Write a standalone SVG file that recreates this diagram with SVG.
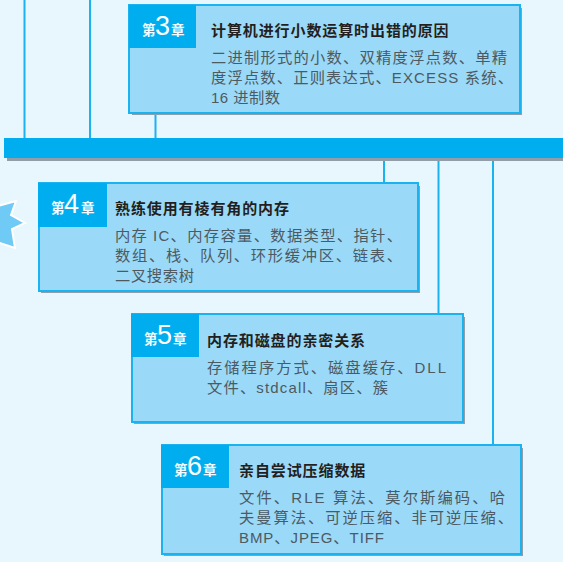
<svg xmlns="http://www.w3.org/2000/svg" width="563" height="562" viewBox="0 0 563 562">
<style>
.card{fill:#9bd9f8;stroke:#1ab2ef;stroke-width:2}
.shadow{fill:#8f9ea8}
.tab{fill:#00aeef}
.link{stroke:#1ab2ef;stroke-width:2;fill:none}
text{font-family:"Noto Sans CJK SC","Liberation Sans",sans-serif}
.title{font-size:15px;font-weight:700;fill:#231f20;letter-spacing:.9px}
.body{font-size:15.300px;fill:#4d5a62}
.lat{font-family:"Liberation Sans","Noto Sans CJK SC",sans-serif;font-size:15px}
.ch{font-size:13.500px;font-weight:700;fill:#f2fbff}
.num{font-family:"Liberation Sans",sans-serif;font-size:27px;fill:#fff}
</style>
<rect width="563" height="562" fill="#e8f6fe"/>
<g id="connectors">
<path class="link" d="M24.500 0V138M90 0V138M155.500 113V138M384 158V183M438.500 158V314M493 158V445"/>
</g>
<g id="bar">
<rect x="7" y="141" width="556" height="20" class="shadow"/>
<rect x="4" y="138" width="559" height="20" class="tab"/>
</g>
<g id="burst">
<path d="M-6 207L16 201L11 215L25 223L12 229L15 248L-6 241Z" fill="#6fcbf5" stroke="#fff" stroke-width="2"/>
</g>
<g id="chapter3">
<rect x="132" y="8" width="390" height="107" class="shadow"/>
<rect x="129" y="5" width="391" height="108" class="card"/>
<rect x="129" y="5" width="67" height="43" class="tab"/>
<text class="ch" x="142" y="35">第</text><text class="num" x="155" y="35">3</text><text class="ch" x="171" y="35">章</text>
<text class="title" x="211" y="36">计算机进行小数运算时出错的原因</text>
<text class="body" x="211" y="63" textLength="296">二进制形式的小数、双精度浮点数、单精</text>
<text class="body" x="211" y="83" textLength="302">度浮点数、正则表达式、<tspan class="lat">EXCESS </tspan>系统、</text>
<text class="body" x="211" y="103" textLength="69"><tspan class="lat">16 </tspan>进制数</text>
</g>
<g id="chapter4">
<rect x="41" y="186" width="379" height="107" class="shadow"/>
<rect x="39" y="183" width="379" height="108" class="card"/>
<rect x="38" y="183" width="69" height="44" class="tab"/>
<text class="ch" x="51" y="213">第</text><text class="num" x="64" y="213">4</text><text class="ch" x="81" y="213">章</text>
<text class="title" x="115" y="214">熟练使用有棱有角的内存</text>
<text class="body" x="115" y="241" textLength="287">内存 <tspan class="lat">IC</tspan>、内存容量、数据类型、指针、</text>
<text class="body" x="115" y="261" textLength="287">数组、栈、队列、环形缓冲区、链表、</text>
<text class="body" x="115" y="281" textLength="79">二叉搜索树</text>
</g>
<g id="chapter5">
<rect x="134" y="317" width="331" height="107" class="shadow"/>
<rect x="132" y="314" width="331" height="108" class="card"/>
<rect x="131" y="314" width="68" height="43" class="tab"/>
<text class="ch" x="144" y="344">第</text><text class="num" x="157" y="344">5</text><text class="ch" x="173" y="344">章</text>
<text class="title" x="207" y="346">内存和磁盘的亲密关系</text>
<text class="body" x="207" y="373" textLength="239">存储程序方式、磁盘缓存、<tspan class="lat">DLL</tspan></text>
<text class="body" x="207" y="393" textLength="181">文件、<tspan class="lat">stdcall</tspan>、扇区、簇</text>
</g>
<g id="chapter6">
<rect x="164" y="448" width="359" height="108" class="shadow"/>
<rect x="162" y="445" width="359" height="109" class="card"/>
<rect x="161" y="445" width="68" height="43" class="tab"/>
<text class="ch" x="174" y="475">第</text><text class="num" x="187" y="475">6</text><text class="ch" x="203" y="475">章</text>
<text class="title" x="239" y="476">亲自尝试压缩数据</text>
<text class="body" x="239" y="503" textLength="266">文件、<tspan class="lat">RLE </tspan>算法、莫尔斯编码、哈</text>
<text class="body" x="239" y="523" textLength="274">夫曼算法、可逆压缩、非可逆压缩、</text>
<text class="body" x="239" y="543" textLength="145"><tspan class="lat">BMP</tspan>、<tspan class="lat">JPEG</tspan>、<tspan class="lat">TIFF</tspan></text>
</g>
</svg>
